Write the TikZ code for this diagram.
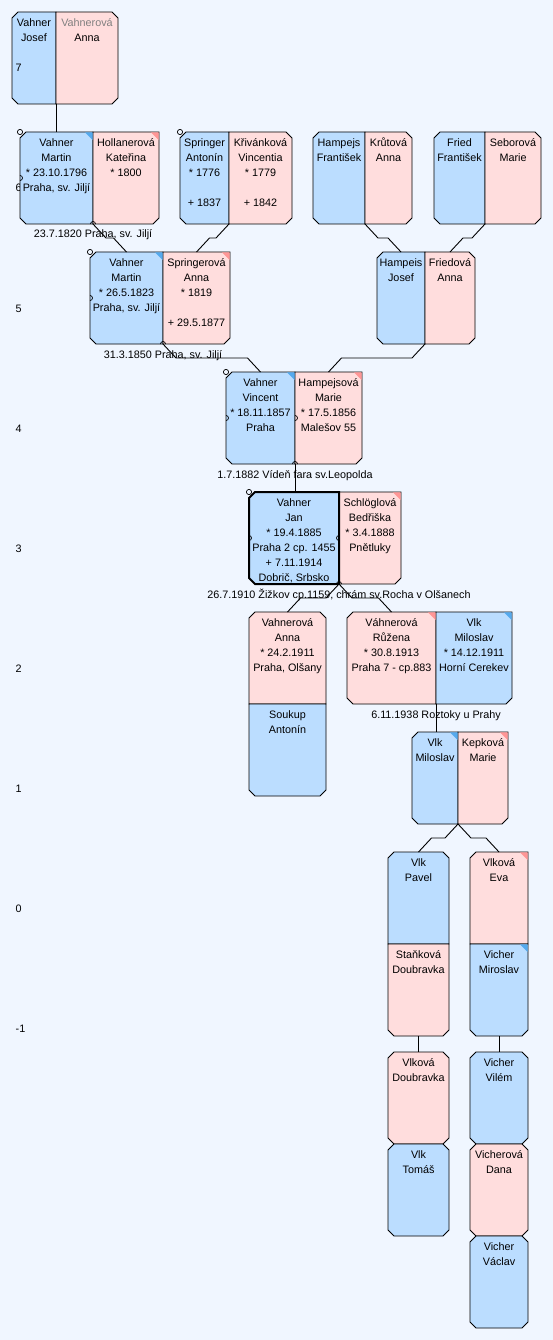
\documentclass[tikz,border=0pt]{standalone}
\usepackage{fontspec}
\setmainfont{Liberation Sans}
\usetikzlibrary{calc}
\definecolor{bgc}{RGB}{240,246,255}
\definecolor{bluef}{RGB}{187,221,255}
\definecolor{pinkf}{RGB}{255,221,221}
\definecolor{bluetri}{RGB}{85,170,238}
\definecolor{pinktri}{RGB}{255,150,150}
\definecolor{graytxt}{RGB}{128,128,128}
\tikzset{
 halfbox/.style={rectangle, draw=none, inner sep=0pt, outer sep=0pt, anchor=north west},
 boxline/.style={draw=black, line width=0.9pt, line join=miter},
 txt/.style={anchor=north, inner sep=0pt, align=center, font=\fontsize{10.8}{15}\selectfont},
 lbl/.style={inner sep=0pt, font=\fontsize{10.8}{15}\selectfont},
 link/.style={draw=black, line width=0.9pt},
 deco/.style={draw=black, line width=0.7pt},
}
\newcommand\halfnode[5]{\node[halfbox, minimum width={#4-#2}, minimum height={#5-#3}] (#1) at (#2,#3) {};}
\newcommand\cellpath[5]{([xshift=#2pt]#1.north west) -- ([xshift=-#3pt]#1.north east) -- ([yshift=-#3pt]#1.north east) -- ([yshift=#4pt]#1.south east) -- ([xshift=-#4pt]#1.south east) -- ([xshift=#5pt]#1.south west) -- ([yshift=#5pt]#1.south west) -- ([yshift=-#2pt]#1.north west) -- cycle}
\newcommand\ctext[2]{\node[txt] (#1t) at ([yshift=-3pt]#1.north) {\rule{0pt}{11pt}#2};}
\newcommand\cornertri[2]{\fill[#2] ([xshift=-0.45pt,yshift=-0.45pt]#1.north east) -- ++(-7.5,0) -- ++(7.5,7.5) -- cycle;}
\newcommand\topcirc[1]{\filldraw[deco, fill=bgc] (#1.north west) circle[radius=2.6pt];}
\newcommand\leftarc[1]{\draw[deco] ([yshift=2.5pt]#1) arc[start angle=90, end angle=-90, radius=2.5pt];}
\newcommand\rightarc[1]{\draw[deco] ([yshift=2.5pt]#1) arc[start angle=90, end angle=270, radius=2.5pt];}
\newcommand\uparc[1]{\draw[deco] ([xshift=-2.5pt]#1) arc[start angle=180, end angle=0, radius=2.5pt];}
\begin{document}
\begin{tikzpicture}[x=1pt,y=-1pt]
\fill[bgc] (0,0) rectangle (553,1340);
\useasboundingbox (0,0) rectangle (553,1340);

% ---- generation 7
\halfnode{Al}{12}{12}{56}{104}
\halfnode{Ar}{56}{12}{118}{104}
\filldraw[boxline, fill=bluef] \cellpath{Al}{6}{0}{0}{6};
\filldraw[boxline, fill=pinkf] \cellpath{Ar}{0}{6}{6}{0};

% ---- level labels
\node[lbl, anchor=base west] (lv7) at (15.5,72) {7};
\node[lbl, anchor=base west] (lv6) at (15.5,192) {6};
\node[lbl, anchor=base west] (lv5) at (15.5,312) {5};
\node[lbl, anchor=base west] (lv4) at (15.5,432) {4};
\node[lbl, anchor=base west] (lv3) at (15.5,552) {3};
\node[lbl, anchor=base west] (lv2) at (15.5,672) {2};
\node[lbl, anchor=base west] (lv1) at (15.5,792) {1};
\node[lbl, anchor=base west] (lv0) at (15.5,912) {0};
\node[lbl, anchor=base west] (lvm1) at (15.5,1032) {-1};

% ---- half nodes
\halfnode{Bl}{20}{132}{93}{224}
\halfnode{Br}{93}{132}{159}{224}
\halfnode{Cl}{180}{132}{229}{224}
\halfnode{Cr}{229}{132}{292}{224}
\halfnode{Dl}{313}{132}{365}{224}
\halfnode{Dr}{365}{132}{412}{224}
\halfnode{El}{434}{132}{485}{224}
\halfnode{Er}{485}{132}{541}{224}
\halfnode{Fl}{90}{252}{163}{344}
\halfnode{Fr}{163}{252}{230}{344}
\halfnode{Gl}{377}{252}{425}{344}
\halfnode{Gr}{425}{252}{475}{344}
\halfnode{Hl}{226}{372}{295}{464}
\halfnode{Hr}{295}{372}{362}{464}
\halfnode{Il}{249}{492}{339}{584}
\halfnode{Ir}{339}{492}{401}{584}
\halfnode{Jt}{249}{612}{326}{704}
\halfnode{Jb}{249}{704}{326}{796}
\halfnode{Kl}{347}{612}{436}{704}
\halfnode{Kr}{436}{612}{512}{704}
\halfnode{Ll}{412}{732}{458}{824}
\halfnode{Lr}{458}{732}{508}{824}
\halfnode{Mt}{388}{852}{449}{944}
\halfnode{Mb}{388}{944}{449}{1036}
\halfnode{Nt}{470}{852}{528}{944}
\halfnode{Nb}{470}{944}{528}{1036}
\halfnode{P}{388}{1052}{449}{1144}
\halfnode{Q}{388}{1144}{449}{1236}
\halfnode{R}{470}{1052}{528}{1144}
\halfnode{S}{470}{1144}{528}{1236}
\halfnode{T}{470}{1236}{528}{1328}

% ---- shapes
\filldraw[boxline, fill=bluef] \cellpath{Bl}{6}{0}{0}{6};
\filldraw[boxline, fill=pinkf] \cellpath{Br}{0}{0}{6}{0};
\filldraw[boxline, fill=bluef] \cellpath{Cl}{6}{0}{0}{6};
\filldraw[boxline, fill=pinkf] \cellpath{Cr}{0}{6}{6}{0};
\filldraw[boxline, fill=bluef] \cellpath{Dl}{6}{0}{0}{6};
\filldraw[boxline, fill=pinkf] \cellpath{Dr}{0}{6}{6}{0};
\filldraw[boxline, fill=bluef] \cellpath{El}{6}{0}{0}{6};
\filldraw[boxline, fill=pinkf] \cellpath{Er}{0}{6}{6}{0};
\filldraw[boxline, fill=bluef] \cellpath{Fl}{6}{0}{0}{6};
\filldraw[boxline, fill=pinkf] \cellpath{Fr}{0}{0}{6}{0};
\filldraw[boxline, fill=bluef] \cellpath{Gl}{6}{0}{0}{6};
\filldraw[boxline, fill=pinkf] \cellpath{Gr}{0}{6}{6}{0};
\filldraw[boxline, fill=bluef] \cellpath{Hl}{6}{0}{0}{6};
\filldraw[boxline, fill=pinkf] \cellpath{Hr}{0}{0}{6}{0};
\filldraw[boxline, fill=pinkf] \cellpath{Ir}{0}{0}{6}{0};
\filldraw[boxline, line width=2pt, fill=bluef] \cellpath{Il}{6}{0}{0}{6};
\filldraw[boxline, fill=pinkf] \cellpath{Jt}{6}{6}{0}{0};
\filldraw[boxline, fill=bluef] \cellpath{Jb}{0}{0}{6}{6};
\filldraw[boxline, fill=pinkf] \cellpath{Kl}{6}{0}{0}{6};
\filldraw[boxline, fill=bluef] \cellpath{Kr}{0}{0}{6}{0};
\filldraw[boxline, fill=bluef] \cellpath{Ll}{6}{0}{0}{6};
\filldraw[boxline, fill=pinkf] \cellpath{Lr}{0}{0}{6}{0};
\filldraw[boxline, fill=bluef] \cellpath{Mt}{6}{6}{0}{0};
\filldraw[boxline, fill=pinkf] \cellpath{Mb}{0}{0}{6}{6};
\filldraw[boxline, fill=pinkf] \cellpath{Nt}{6}{0}{0}{0};
\filldraw[boxline, fill=bluef] \cellpath{Nb}{0}{0}{6}{6};
\filldraw[boxline, fill=pinkf] \cellpath{P}{6}{6}{6}{6};
\filldraw[boxline, fill=bluef] \cellpath{Q}{6}{6}{6}{6};
\filldraw[boxline, fill=bluef] \cellpath{R}{6}{6}{6}{6};
\filldraw[boxline, fill=pinkf] \cellpath{S}{6}{6}{6}{6};
\filldraw[boxline, fill=bluef] \cellpath{T}{6}{6}{6}{6};

% ---- corner markers
\cornertri{Bl}{bluetri}
\cornertri{Br}{pinktri}
\cornertri{Fl}{bluetri}
\cornertri{Fr}{pinktri}
\cornertri{Hl}{bluetri}
\cornertri{Hr}{pinktri}
\cornertri{Ir}{pinktri}
\cornertri{Kl}{pinktri}
\cornertri{Kr}{bluetri}
\cornertri{Ll}{bluetri}
\cornertri{Lr}{pinktri}
\cornertri{Nt}{pinktri}
\cornertri{Nb}{bluetri}

% ---- texts
\ctext{Al}{Vahner\\Josef}
\ctext{Ar}{\textcolor{graytxt}{Vahnerová}\\Anna}
\ctext{Bl}{Vahner\\Martin\\* 23.10.1796\\Praha, sv. Jiljí}
\ctext{Br}{Hollanerová\\Kateřina\\* 1800}
\ctext{Cl}{Springer\\Antonín\\* 1776\\[15pt]+ 1837}
\ctext{Cr}{Křivánková\\Vincentia\\* 1779\\[15pt]+ 1842}
\ctext{Dl}{Hampejs\\František}
\ctext{Dr}{Krůtová\\Anna}
\ctext{El}{Fried\\František}
\ctext{Er}{Seborová\\Marie}
\ctext{Fl}{Vahner\\Martin\\* 26.5.1823\\Praha, sv. Jiljí}
\ctext{Fr}{Springerová\\Anna\\* 1819\\[15pt]+ 29.5.1877}
\ctext{Gl}{Hampeis\\Josef}
\ctext{Gr}{Friedová\\Anna}
\ctext{Hl}{Vahner\\Vincent\\* 18.11.1857\\Praha}
\ctext{Hr}{Hampejsová\\Marie\\* 17.5.1856\\Malešov 55}
\ctext{Il}{Vahner\\Jan\\* 19.4.1885\\Praha 2 cp. 1455\\+ 7.11.1914\\Dobrič, Srbsko}
\ctext{Ir}{Schlöglová\\Bedřiška\\* 3.4.1888\\Pnětluky}
\ctext{Jt}{Vahnerová\\Anna\\* 24.2.1911\\Praha, Olšany}
\ctext{Jb}{Soukup\\Antonín}
\ctext{Kl}{Váhnerová\\Růžena\\* 30.8.1913\\Praha 7 - cp.883}
\ctext{Kr}{Vlk\\Miloslav\\* 14.12.1911\\Horní Cerekev}
\ctext{Ll}{Vlk\\Miloslav}
\ctext{Lr}{Kepková\\Marie}
\ctext{Mt}{Vlk\\Pavel}
\ctext{Mb}{Staňková\\Doubravka}
\ctext{Nt}{Vlková\\Eva}
\ctext{Nb}{Vicher\\Miroslav}
\ctext{P}{Vlková\\Doubravka}
\ctext{Q}{Vlk\\Tomáš}
\ctext{R}{Vicher\\Vilém}
\ctext{S}{Vicherová\\Dana}
\ctext{T}{Vicher\\Václav}

% ---- small decorations
\topcirc{Bl}
\topcirc{Cl}
\topcirc{Fl}
\topcirc{Hl}
\topcirc{Il}
\leftarc{Bl.west}
\leftarc{Fl.west}
\leftarc{Hl.west}
\leftarc{Il.west}
\leftarc{Hr.west}
\rightarc{Ir.west}
\uparc{Bl.south east}
\uparc{Fl.south east}
\uparc{Hl.south east}
\uparc{Il.south east}

% ---- connectors
\draw[link] (Al.south east) -- (Al.south east |- Bl.north);
\draw[link] (Bl.south east) -- ++(13,14) -- ([xshift=-13pt,yshift=14pt]Fl.north) -- (Fl.north);
\draw[link] (Cl.south east) -- ++(-13,14) -- ([xshift=13pt,yshift=14pt]Fr.north) -- (Fr.north);
\draw[link] (Dl.south east) -- ++(13,14) -- ([xshift=-13pt,yshift=14pt]Gl.north) -- (Gl.north);
\draw[link] (El.south east) -- ++(-13,14) -- ([xshift=13pt,yshift=14pt]Gr.north) -- (Gr.north);
\draw[link] (Fl.south east) -- ++(13,14) -- ([xshift=-13pt,yshift=14pt]Hl.north) -- (Hl.north);
\draw[link] (Gl.south east) -- ++(-13,14) -- ([xshift=13pt,yshift=14pt]Hr.north) -- (Hr.north);
\draw[link] (Hl.south east) -- (Hl.south east |- Il.north);
\draw[link] (Il.south east) -- ++(-13,14) -- ([xshift=13pt,yshift=14pt]Jt.north) -- (Jt.north);
\draw[link] (Il.south east) -- ++(13,14) -- ([xshift=-13pt,yshift=14pt]Kl.north) -- (Kl.north);
\draw[link] (Kl.south east) -- (Kl.south east |- Ll.north);
\draw[link] (Ll.south east) -- ++(-13,14) -- ([xshift=13pt,yshift=14pt]Mt.north) -- (Mt.north);
\draw[link] (Ll.south east) -- ++(13,14) -- ([xshift=-13pt,yshift=14pt]Nt.north) -- (Nt.north);
\draw[link] (Mb.south) -- (P.north);
\draw[link] (Nb.south) -- (R.north);

% ---- marriage labels
\node[lbl, anchor=base] (Bm) at ([yshift=-14pt]Bl.south east) {23.7.1820 Praha, sv. Jiljí};
\node[lbl, anchor=base] (Fm) at ([yshift=-14pt]Fl.south east) {31.3.1850 Praha, sv. Jiljí};
\node[lbl, anchor=base] (Hm) at ([yshift=-14pt]Hl.south east) {1.7.1882 Vídeň fara sv.Leopolda};
\node[lbl, anchor=base] (Im) at ([yshift=-14pt]Il.south east) {26.7.1910 Žižkov cp.1159, chrám sv.Rocha v Olšanech};
\node[lbl, anchor=base] (Km) at ([yshift=-14pt]Kl.south east) {6.11.1938 Roztoky u Prahy};
\end{tikzpicture}
\end{document}
